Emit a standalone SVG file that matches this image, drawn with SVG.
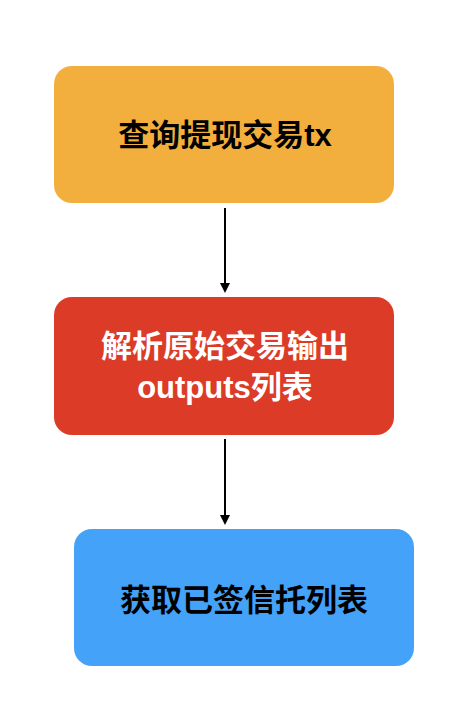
<svg xmlns="http://www.w3.org/2000/svg" width="458" height="702" viewBox="0 0 458 702">
<style>
.t{font-family:"Liberation Sans","Noto Sans CJK SC",sans-serif;font-weight:bold;font-size:31px;text-anchor:middle}
.c{stroke:#000;stroke-width:2;fill:none}
</style>
<rect width="458" height="702" fill="#fff"/>
<g id="n1">
<rect x="54" y="66" width="340" height="137" rx="18" fill="#F3AF3D"/>
<text class="t" x="225" y="146" fill="#000">查询提现交易tx</text>
</g>
<g id="n2">
<rect x="54" y="297" width="340" height="138" rx="18" fill="#DB3B27"/>
<text class="t" x="225" y="357" fill="#fff">解析原始交易输出</text>
<text class="t" x="225" y="398" fill="#fff">outputs列表</text>
</g>
<g id="n3">
<rect x="74" y="529" width="340" height="137" rx="18" fill="#44A2F8"/>
<text class="t" x="244" y="611" fill="#000">获取已签信托列表</text>
</g>
<g id="connectors">
<line class="c" x1="225" y1="208" x2="225" y2="284"/>
<path d="M220,283 L230,283 L225,293 z" fill="#000"/>
<line class="c" x1="225" y1="439" x2="225" y2="516"/>
<path d="M220,515 L230,515 L225,525 z" fill="#000"/>
</g>
</svg>
